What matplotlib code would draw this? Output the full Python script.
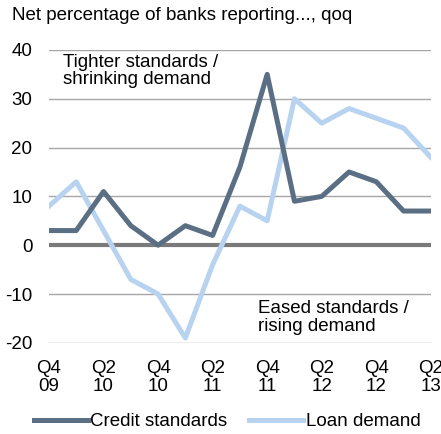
import matplotlib.pyplot as plt

plt.rcParams['font.family'] = ['Liberation Sans', 'DejaVu Sans']
plt.rcParams['axes.unicode_minus'] = False

quarters = ["Q4\n09", "Q1\n10", "Q2\n10", "Q3\n10", "Q4\n10", "Q1\n11", "Q2\n11", "Q3\n11",
            "Q4\n11", "Q1\n12", "Q2\n12", "Q3\n12", "Q4\n12", "Q1\n13", "Q2\n13"]
credit_standards = [3, 3, 11, 4, 0, 4, 2, 16, 35, 9, 10, 15, 13, 7, 7]
loan_demand = [8, 13, 3, -7, -10, -19, -4, 8, 5, 30, 25, 28, 26, 24, 18]
yticks = [-20, -10, 0, 10, 20, 30, 40]

dark = '#5b6f84'
light = '#b7d3f0'
fs = 13.5

fig = plt.figure(figsize=(4.41, 4.34), dpi=100)
ax = fig.add_axes([0.111, 0.21, 0.866, 0.675])

x = list(range(len(quarters)))
for y in yticks:
    if y != 0:
        ax.axhline(y, color='#a6a6a6', lw=1.0, zorder=1)
ax.axhline(0, color='#7a7a7a', lw=3.0, zorder=2)

ax.plot(x, credit_standards, color=dark, lw=3.6, label='Credit standards', zorder=4)
ax.plot(x, loan_demand, color=light, lw=3.6, label='Loan demand', zorder=3)

ax.set_xlim(0, 14)
ax.set_ylim(-20, 40)
ax.set_yticks(yticks)
ax.set_xticks(x[::2])
ax.set_xticklabels(quarters[::2], linespacing=1.1)
ax.tick_params(length=0, labelsize=fs, colors='black', pad=12)
ax.tick_params(axis='y', pad=12)
for s in ax.spines.values():
    s.set_visible(False)

ax.text(0.5, 39.2, "Tighter standards /\nshrinking demand", fontsize=fs, va='top', ha='left',
        linespacing=1.05)
ax.text(7.65, -11.2, "Eased standards /\nrising demand", fontsize=fs, va='top', ha='left',
        linespacing=1.05)
fig.text(0.027, 0.985, "Net percentage of banks reporting..., qoq", fontsize=fs, va='top', ha='left')

fig.legend(loc='lower center', bbox_to_anchor=(0.515, -0.03), ncol=2, frameon=False,
           fontsize=fs, handlelength=2.9, handletextpad=0.12, columnspacing=1.15)

fig.savefig('out.png', dpi=100)
